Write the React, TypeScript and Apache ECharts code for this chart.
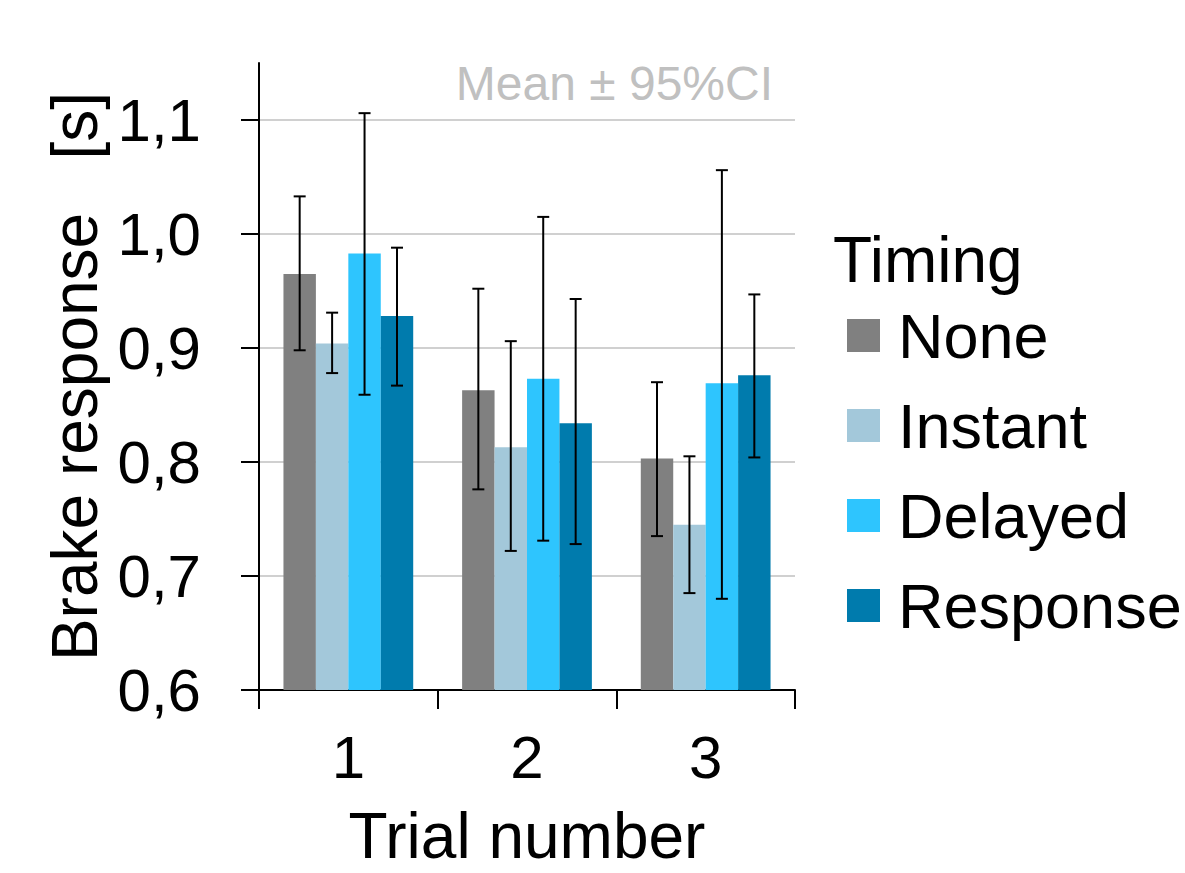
import React, { useEffect, useRef } from "react";
import * as echarts from "echarts";

const categories = ["1", "2", "3"];
const seriesNames = ["None", "Instant", "Delayed", "Response"];
const colors = ["#808080", "#a3c8da", "#2ec5fe", "#007bad"];
const means = [
  [0.965, 0.863, 0.803],
  [0.904, 0.813, 0.745],
  [0.983, 0.873, 0.869],
  [0.928, 0.834, 0.876],
];
const lows = [
  [0.898, 0.776, 0.735],
  [0.878, 0.722, 0.685],
  [0.859, 0.731, 0.680],
  [0.867, 0.728, 0.804],
];
const highs = [
  [1.033, 0.952, 0.870],
  [0.931, 0.906, 0.805],
  [1.106, 1.015, 1.056],
  [0.988, 0.943, 0.947],
];
const yTicks = [0.6, 0.7, 0.8, 0.9, 1.0, 1.1];

const FONT = "'Liberation Sans', Arial, sans-serif";
const BAR_FRAC = 32.5 / 179;

export default function App() {
  const ref = useRef<HTMLDivElement>(null);
  useEffect(() => {
    if (!ref.current) return;
    const chart = echarts.init(ref.current, undefined, { renderer: "svg" });
    const errData: number[][] = [];
    seriesNames.forEach((_, s) => {
      categories.forEach((_, c) => {
        errData.push([c, s, lows[s][c], highs[s][c]]);
      });
    });
    const barSeries = seriesNames.map((name, s) => ({
      name,
      type: "bar",
      data: means[s],
      barWidth: BAR_FRAC * 100 + "%",
      barGap: "0%",
      itemStyle: { color: colors[s] },
      z: 2,
    }));
    chart.setOption({
      animation: false,
      textStyle: { fontFamily: FONT },
      grid: { left: 259, width: 536, top: 63, height: 633, containLabel: false },
      title: {
        text: "Timing",
        left: 833,
        top: 228,
        padding: 0,
        textStyle: { fontSize: 64, fontWeight: "normal", color: "#000", fontFamily: FONT },
      },
      legend: {
        orient: "vertical",
        left: 847,
        top: 304,
        padding: 0,
        data: seriesNames,
        icon: "rect",
        itemWidth: 33,
        itemHeight: 33,
        itemGap: 27,
        textStyle: { fontSize: 63, color: "#000", fontFamily: FONT, lineHeight: 60, padding: [0, 0, 0, 13] },
        selectedMode: false,
      },
      graphic: [
        {
          type: "text",
          right: 1185 - 773,
          top: 59,
          style: { text: "Mean ± 95%CI", fill: "#c0c0c0", font: "48px " + FONT },
        },
      ],
      xAxis: {
        type: "category",
        data: categories,
        boundaryGap: true,
        axisLine: { lineStyle: { color: "#000", width: 2 } },
        axisTick: { show: true, length: 19, lineStyle: { color: "#000", width: 2 } },
        axisLabel: { fontSize: 60, color: "#000", margin: 37, fontFamily: FONT },
        name: "Trial number",
        nameLocation: "middle",
        nameGap: 114,
        nameTextStyle: { fontSize: 64, color: "#000", fontFamily: FONT },
      },
      yAxis: {
        type: "value",
        min: 0.6,
        max: 1.15,
        axisLine: { show: true, lineStyle: { color: "#000", width: 2 } },
        axisTick: { show: true, length: 18, customValues: yTicks, lineStyle: { color: "#000", width: 2 } },
        axisLabel: {
          fontSize: 60,
          color: "#000",
          margin: 58,
          fontFamily: FONT,
          customValues: yTicks,
          formatter: (v: number) => v.toFixed(1).replace(".", ","),
        },
        splitLine: { show: true, lineStyle: { color: "#c0c0c0", width: 1.5 } },
        name: "Brake response   [s]",
        nameLocation: "middle",
        nameRotate: 90,
        nameGap: 152,
        nameTextStyle: { fontSize: 64, color: "#000", fontFamily: FONT },
      },
      series: [
        ...barSeries,
        {
          type: "custom",
          name: "err",
          data: errData,
          encode: { x: 0, y: [2, 3] },
          z: 5,
          renderItem: (params: any, api: any) => {
            const c = api.value(0);
            const s = api.value(1);
            const pLo = api.coord([c, api.value(2)]);
            const pHi = api.coord([c, api.value(3)]);
            const cw = api.size([1, 0])[0];
            const x = pLo[0] + (s - 1.5) * cw * BAR_FRAC;
            const hw = 6;
            const style = { stroke: "#000", lineWidth: 2 };
            return {
              type: "group",
              children: [
                { type: "line", shape: { x1: x, y1: pLo[1], x2: x, y2: pHi[1] }, style },
                { type: "line", shape: { x1: x - hw, y1: pLo[1], x2: x + hw, y2: pLo[1] }, style },
                { type: "line", shape: { x1: x - hw, y1: pHi[1], x2: x + hw, y2: pHi[1] }, style },
              ],
            };
          },
        },
      ],
    });
    return () => chart.dispose();
  }, []);
  return (
    <div
      ref={ref}
      style={{ position: "fixed", left: 0, top: 0, width: 1185, height: 873, background: "#fff" }}
    />
  );
}
